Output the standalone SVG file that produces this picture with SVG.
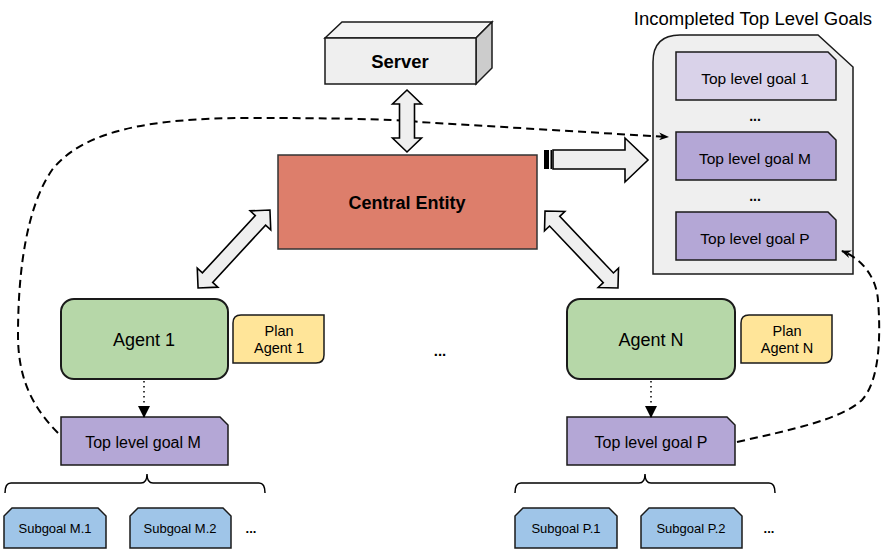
<svg xmlns="http://www.w3.org/2000/svg" width="886" height="560" viewBox="0 0 886 560">
<style>
text{font-family:"Liberation Sans",Arial,sans-serif;fill:#000;text-anchor:middle}
.b{stroke:#1a1a1a;stroke-width:1.5}
.agent{fill:#b6d7a8;stroke:#1a1a1a;stroke-width:2}
.plan{fill:#ffe599;stroke:#1a1a1a;stroke-width:1.5}
.tlg{fill:#b4a7d6;stroke:#1a1a1a;stroke-width:1.5}
.sub{fill:#9fc5e8;stroke:#1a1a1a;stroke-width:1.5}
.dbl{fill:#efefef;stroke:#000;stroke-width:1.6;stroke-linejoin:miter}
.dash{fill:none;stroke:#000;stroke-width:2;stroke-dasharray:8,5}
.dot{fill:none;stroke:#000;stroke-width:1.5;stroke-dasharray:1.5,3.5}
.brk{fill:none;stroke:#000;stroke-width:1.5}
</style>
<defs>
<marker id="ah" markerWidth="10" markerHeight="8" refX="9" refY="4" orient="auto" markerUnits="userSpaceOnUse">
<path d="M0,0 L10,4 L0,8 L3,4 Z" fill="#000"/>
</marker>
<marker id="tri" markerWidth="12" markerHeight="12" refX="11" refY="6" orient="auto" markerUnits="userSpaceOnUse">
<path d="M0,0 L12,6 L0,12 Z" fill="#000"/>
</marker>
</defs>

<g id="server">
<polygon points="325,38 342,22 492,22 476,38" fill="#f3f3f3" class="b"/>
<polygon points="476,38 492,22 492,68 476,84" fill="#cccccc" class="b"/>
<rect x="325" y="38" width="151" height="46" fill="#efefef" class="b"/>
<text x="400" y="68" font-size="18.5" font-weight="bold">Server</text>
</g>

<g id="central-entity">
<rect x="278" y="155" width="259" height="94" fill="#dd7e6b" stroke="#333" stroke-width="1.5"/>
<text x="407" y="209" font-size="18" font-weight="bold">Central Entity</text>
</g>

<g id="incompleted-goals">
<text x="753" y="25" font-size="18.5">Incompleted Top Level Goals</text>
<path d="M653,62 Q653,35 680,35 L818,35 L853,67 L853,274 L653,274 Z" fill="#efefef" class="b"/>
<g id="goal-1">
<path d="M676,52 L828,52 L836,60 L836,100 L676,100 Z" fill="#d9d2e9" class="b"/>
<text x="755" y="84" font-size="15.5">Top level goal 1</text>
</g>
<text x="755" y="121" font-size="14" font-weight="bold">...</text>
<g id="goal-m">
<path d="M676,132 L828,132 L836,140 L836,180 L676,180 Z" class="tlg"/>
<text x="755" y="164" font-size="15.5">Top level goal M</text>
</g>
<text x="755" y="201" font-size="14" font-weight="bold">...</text>
<g id="goal-p">
<path d="M676,212 L828,212 L836,220 L836,260 L676,260 Z" class="tlg"/>
<text x="755" y="244" font-size="15.5">Top level goal P</text>
</g>
</g>

<g id="agent-1">
<rect x="61" y="299" width="167" height="80" rx="13" class="agent"/>
<text x="144" y="346" font-size="18">Agent 1</text>
</g>
<g id="plan-agent-1">
<path d="M241,315 L324,315 L324,355 Q324,363 316,363 L233,363 L233,323 Q233,315 241,315 Z" class="plan"/>
<text x="279" y="336" font-size="14.5">Plan</text>
<text x="279" y="353" font-size="14.5">Agent 1</text>
</g>
<text x="440" y="356" font-size="15" font-weight="bold">...</text>
<g id="agent-n">
<rect x="567" y="299" width="168" height="80" rx="13" class="agent"/>
<text x="651" y="346" font-size="18">Agent N</text>
</g>
<g id="plan-agent-n">
<path d="M749,315 L832,315 L832,355 Q832,363 824,363 L741,363 L741,323 Q741,315 749,315 Z" class="plan"/>
<text x="787" y="336" font-size="14.5">Plan</text>
<text x="787" y="353" font-size="14.5">Agent N</text>
</g>

<g id="tlg-m">
<path d="M61,417 L220,417 L228,425 L228,465 L61,465 Z" class="tlg"/>
<text x="143" y="448" font-size="16">Top level goal M</text>
</g>
<g id="tlg-p">
<path d="M567,417 L727,417 L735,425 L735,465 L567,465 Z" class="tlg"/>
<text x="651" y="448" font-size="16">Top level goal P</text>
</g>

<g id="subgoal-m1">
<path d="M12,508 L98,508 L106,516 L106,548 L4,548 L4,516 Z" class="sub"/>
<text x="55" y="533" font-size="13">Subgoal M.1</text>
</g>
<g id="subgoal-m2">
<path d="M138,508 L223,508 L231,516 L231,548 L130,548 L130,516 Z" class="sub"/>
<text x="180" y="533" font-size="13">Subgoal M.2</text>
</g>
<text x="251" y="533" font-size="13" font-weight="bold">...</text>
<g id="subgoal-p1">
<path d="M523,508 L609,508 L617,516 L617,548 L515,548 L515,516 Z" class="sub"/>
<text x="566" y="533" font-size="13">Subgoal P.1</text>
</g>
<g id="subgoal-p2">
<path d="M649,508 L734,508 L742,516 L742,548 L641,548 L641,516 Z" class="sub"/>
<text x="691" y="533" font-size="13">Subgoal P.2</text>
</g>
<text x="769" y="533" font-size="13" font-weight="bold">...</text>

<g id="connectors">
<path class="dash" d="M58,433 C30,405 18,375 18,335 C18,265 28,205 52,170 C82,132 145,118 250,118 C330,118 390,119 420,122 L668,137" marker-end="url(#ah)"/>
<path class="dash" d="M737,442 C790,430 840,420 862,400 C882,378 880,325 878,300 C876,275 860,258 842,251" marker-end="url(#ah)"/>
<path class="dot" d="M144,381 L144,417" marker-end="url(#tri)"/>
<path class="dot" d="M651,381 L651,417" marker-end="url(#tri)"/>
<polygon class="dbl" points="407,90 421.5,104 414.5,104 414.5,138 421.5,138 407,152 392.5,138 399.5,138 399.5,104 392.5,104"/>
<polygon class="dbl" points="-53,0 -39,-14 -39,-7 39,-7 39,-14 53,0 39,14 39,7 -39,7 -39,14" transform="translate(234,249) rotate(-47.3)"/>
<polygon class="dbl" points="-53,0 -39,-14 -39,-7 39,-7 39,-14 53,0 39,14 39,7 -39,7 -39,14" transform="translate(581.5,249.5) rotate(46.5)"/>
<g id="arrow-to-goals">
<polygon class="dbl" points="553,150 625,150 625,138 648,160 625,182 625,169 553,169"/>
<rect x="544" y="150" width="5" height="19" fill="#000"/>
<rect x="550.5" y="150" width="1.5" height="19" fill="#000"/>
</g>
<path class="brk" d="M5,493 Q5,483 11,483 L141,483 Q147,483 147,474 Q147,483 153,483 L259,483 Q265,483 265,493"/>
<path class="brk" d="M515,493 Q515,483 521,483 L639,483 Q645,483 645,474 Q645,483 651,483 L769,483 Q775,483 775,493"/>
</g>
</svg>
